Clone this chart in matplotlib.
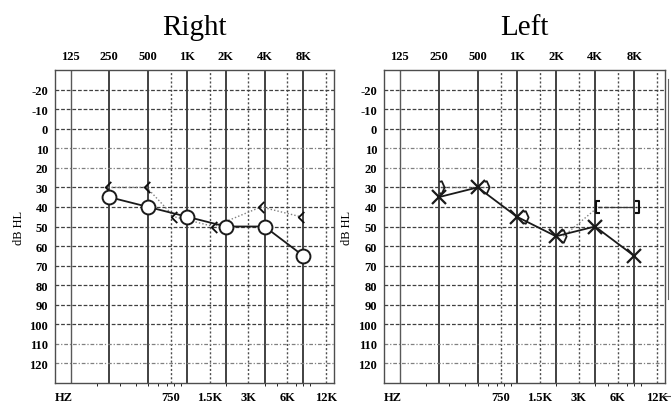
import numpy as np
import matplotlib
matplotlib.use("Agg")
import matplotlib.pyplot as plt
from matplotlib.path import Path
from matplotlib.lines import Line2D

#=== data ===#
octave_freqs = [125, 250, 500, 1000, 2000, 4000, 8000]
octave_labels = ["125", "250", "500", "1K", "2K", "4K", "8K"]
half_freqs = [750, 1500, 3000, 6000, 12000]
half_labels = ["750", "1.5K", "3K", "6K", "12K"]
db_ticks = list(range(-20, 130, 10))

# right ear
right_ac_freq = [250, 500, 1000, 2000, 4000, 8000]
right_ac_db = [35, 40, 45, 50, 50, 65]
right_bc_freq = [250, 500, 1000, 2000, 4000, 8000]
right_bc_db = [30, 30, 45, 50, 40, 45]

# left ear
left_ac_freq = [250, 500, 1000, 2000, 4000, 8000]
left_ac_db = [35, 30, 45, 55, 50, 65]
left_bc_freq = [250, 500, 1000, 2000]
left_bc_db = [30, 30, 45, 55]
left_mbc_freq = [4000, 8000]
left_mbc_db = [40, 40]

#=== style ===#
plt.rcParams['font.family'] = ['Liberation Serif', 'DejaVu Serif']
W, H = 671, 406
fig = plt.figure(figsize=(W / 100, H / 100), dpi=100)

# symbol nudges (in octaves) so the bone symbols sit beside the lines
right_bc_nudge = [-0.03, -0.04, -0.33, -0.31, -0.09, -0.07]
left_bc_nudge = [0.05, 0.21, 0.22, 0.19]
left_mbc_nudge = [0.08, 0.08]

caret_l = Path([(0.5, 1), (-0.5, 0), (0.5, -1)], [Path.MOVETO, Path.LINETO, Path.LINETO])
caret_r = Path([(-0.3, 0.9), (0.05, 1), (0.5, 0), (0.05, -1), (-0.3, -0.9)],
               [Path.MOVETO, Path.LINETO, Path.LINETO, Path.LINETO, Path.LINETO])
brk_l = Path([(0.3, 1), (-0.3, 1), (-0.3, -1), (0.3, -1)],
             [Path.MOVETO, Path.LINETO, Path.LINETO, Path.LINETO])
brk_r = Path([(-0.3, 1), (0.3, 1), (0.3, -1), (-0.3, -1)],
             [Path.MOVETO, Path.LINETO, Path.LINETO, Path.LINETO])


def nudge(freqs, offs):
    return [f * 2 ** o for f, o in zip(freqs, offs)]


def setup_axes(ax, title, label_x):
    ax.set_xscale('log', base=2)
    ax.set_xlim(125 * 2 ** -0.4, 125 * 2 ** 6.79)
    ax.set_ylim(130, -30)
    ax.minorticks_off()

    # grid
    for f in octave_freqs:
        ax.axvline(f, color='0.35' if f == 125 else '0.2', lw=1.0 if f == 125 else 1.3, zorder=1)
    for f in half_freqs:
        ax.axvline(f, color='0.3', lw=1.0, ls=(0, (1.5, 1.5)), zorder=1)
    for d in db_ticks:
        light = d in (10, 20, 110, 120)
        ax.axhline(d, color='0.5' if light else '0.25', lw=0.9,
                   ls=(0, (3, 1.5, 1, 1.5)) if light else (0, (3, 1.5)), zorder=1)

    for s in ax.spines.values():
        s.set_color('0.3')
        s.set_linewidth(1.0)

    ax.xaxis.tick_top()
    ax.set_xticks(octave_freqs)
    ax.set_xticklabels(octave_labels)
    ax.set_yticks(db_ticks)
    ax.set_yticklabels([str(d) for d in db_ticks])
    ax.tick_params(axis='x', length=0, pad=6, labelsize=9)
    ax.tick_params(axis='y', length=0, pad=5, labelsize=9)
    for t in ax.get_xticklabels() + ax.get_yticklabels():
        t.set_fontweight('bold')

    sec = ax.secondary_xaxis('bottom')
    sec.set_xticks(half_freqs)
    sec.set_xticklabels(half_labels)
    sec.tick_params(length=0, pad=6, labelsize=9)
    sec.spines['bottom'].set_visible(False)
    for t in sec.get_xticklabels():
        t.set_fontweight('bold')
    ax.text(0.0, -0.044, "HZ", transform=ax.transAxes, ha='left', va='center',
            fontsize=9, fontweight='bold')

    ax.set_ylabel("dB HL", fontsize=9)
    ax.yaxis.set_label_coords(label_x, 0.5)
    ax.set_title(title, fontsize=21, pad=26)


#=== Right ear ===#
axR = fig.add_axes([55 / W, 1 - 384 / H, 279 / W, 313 / H])
setup_axes(axR, "Right", -0.109)
bcx = nudge(right_bc_freq, right_bc_nudge)
axR.plot(bcx, right_bc_db, color='0.5', lw=1.0, ls=(0, (1, 1.5)), zorder=2)
axR.plot(bcx, right_bc_db, ls='none', marker=caret_l, ms=8, mfc='none',
         mec='0.05', mew=1.3, zorder=3)
axR.plot(right_ac_freq, right_ac_db, color='0.1', lw=1.3, marker='o', ms=10,
         mfc='white', mec='0.1', mew=1.4, zorder=4)

#=== Left ear ===#
axL = fig.add_axes([384 / W, 1 - 384 / H, 281 / W, 313 / H])
setup_axes(axL, "Left", -0.112)
bcx = nudge(left_bc_freq, left_bc_nudge)
mbx = nudge(left_mbc_freq, left_mbc_nudge)
axL.plot(bcx[:2], left_bc_db[:2], color='0.4', lw=1.0, ls=(0, (1, 1.5)), zorder=2)
axL.plot([bcx[3], mbx[0]], [left_bc_db[3], left_mbc_db[0]], color='0.5', lw=1.0,
         ls=(0, (1, 1.5)), zorder=2)
axL.plot(left_ac_freq, left_ac_db, color='0.1', lw=1.3, zorder=3)
axL.plot(left_ac_freq, left_ac_db, ls='none', marker='x', ms=10, mec='0.1',
         mew=1.6, zorder=4)
axL.plot(bcx, left_bc_db, ls='none', marker=caret_r, ms=9, mfc='none',
         mec='0.1', mew=1.3, zorder=4)
axL.plot(mbx, left_mbc_db, color='0.2', lw=1.0, ls=(0, (3, 1.5)), zorder=2)
axL.plot(mbx[:1], left_mbc_db[:1], ls='none', marker=brk_l, ms=9, mfc='none',
         mec='0.05', mew=1.5, zorder=5)
axL.plot(mbx[1:], left_mbc_db[1:], ls='none', marker=brk_r, ms=9, mfc='none',
         mec='0.05', mew=1.5, zorder=5)

# scrap of the neighbouring chart at the right edge
fig.add_artist(Line2D([668 / W, 668 / W], [1 - 300 / H, 1 - 80 / H], color='0.4', lw=0.8))
fig.add_artist(Line2D([663 / W, 671 / W], [1 - 397 / H, 1 - 397 / H], color='0.3', lw=0.8))

fig.savefig("out.png", dpi=100)
